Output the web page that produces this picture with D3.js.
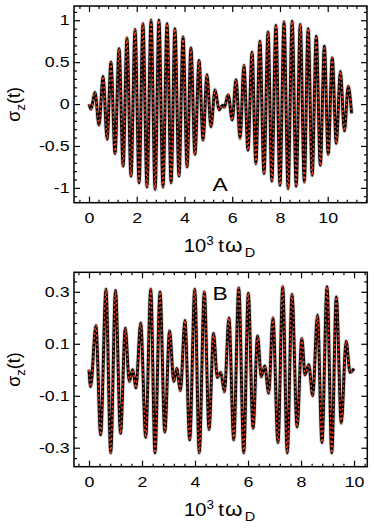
<!DOCTYPE html>
<html>
<head>
<meta charset="utf-8">
<script src="https://cdn.jsdelivr.net/npm/d3@7"></script>
<style>
  body { margin: 0; background: #fff; }
  svg { display: block; font-family: "Liberation Sans", Arial, Helvetica, sans-serif; }
</style>
</head>
<body>
<div id="chart"></div>
<script>
// sigma_z(t) turning points (time in units of 10^3 / omega_D)
const aTime = [0, 0.085, 0.25, 0.42, 0.59, 0.76, 0.92, 1.09, 1.26, 1.43, 1.59, 1.76, 1.93, 2.1, 2.26, 2.43, 2.6,
  2.77, 2.93, 3.1, 3.27, 3.44, 3.6, 3.77, 3.94, 4.11, 4.27, 4.44, 4.61, 4.78, 4.94, 5.11, 5.28, 5.45,
  5.59, 5.67, 5.83, 6.0, 6.16, 6.33, 6.49, 6.66, 6.83, 6.99, 7.16, 7.33, 7.5, 7.66, 7.83, 8.0, 8.17,
  8.34, 8.51, 8.68, 8.85, 9.02, 9.18, 9.35, 9.52, 9.69, 9.86, 10.02, 10.19, 10.36, 10.53, 10.7, 10.86, 11.0];
const aSigma = [0, -0.06, 0.14, -0.25, 0.33, -0.42, 0.5, -0.59, 0.66, -0.74, 0.79, -0.86, 0.89, -0.94, 0.96, -0.99, 1.0,
  -1.02, 1.0, -0.99, 0.96, -0.94, 0.9, -0.86, 0.8, -0.75, 0.67, -0.6, 0.52, -0.43, 0.35, -0.27, 0.17, -0.07,
  -0.015, -0.035, 0.11, -0.19, 0.29, -0.41, 0.46, -0.55, 0.62, -0.71, 0.75, -0.83, 0.86, -0.92, 0.94, -0.97, 0.98,
  -1.01, 0.99, -0.98, 0.95, -0.93, 0.9, -0.85, 0.81, -0.73, 0.69, -0.6, 0.55, -0.47, 0.39, -0.32, 0.21, -0.11];

const bTime = [0, 0.06, 0.26, 0.44, 0.64, 0.82, 1.0, 1.19, 1.37, 1.52, 1.65, 1.77, 1.95, 2.14, 2.33, 2.49, 2.68,
  2.86, 3.04, 3.2, 3.31, 3.45, 3.62, 3.8, 3.99, 4.16, 4.35, 4.53, 4.7, 4.84, 4.97, 5.11, 5.28, 5.46, 5.65,
  5.84, 6.01, 6.19, 6.36, 6.5, 6.63, 6.78, 6.94, 7.13, 7.31, 7.48, 7.66, 7.85, 8.03, 8.15, 8.29, 8.44,
  8.62, 8.79, 8.98, 9.16, 9.33, 9.52, 9.7, 9.85, 10.0];
const bSigma = [0, -0.065, 0.17, -0.25, 0.31, -0.32, 0.305, -0.245, 0.16, -0.045, 0.0, -0.07, 0.18, -0.26, 0.31, -0.32, 0.3,
  -0.24, 0.15, -0.045, 0.005, -0.08, 0.19, -0.27, 0.31, -0.32, 0.3, -0.23, 0.14, -0.03, -0.01, -0.085, 0.2, -0.27, 0.315,
  -0.32, 0.295, -0.225, 0.13, -0.027, 0.015, -0.09, 0.2, -0.28, 0.32, -0.32, 0.29, -0.22, 0.12, -0.02, 0.02, -0.1,
  0.21, -0.28, 0.32, -0.32, 0.28, -0.205, 0.11, -0.01, 0.005];

const xTicks = [0, 2, 4, 6, 8, 10];
const aYTicks = [-1, -0.5, 0, 0.5, 1];
const bYTicks = [-0.3, -0.1, 0.1, 0.3];

const width = 374;
const height = 530;
const stretch = 1.27;   // the original lettering is a bit wider than Arial

const svg = d3.select('#chart').append('svg')
  .attr('width', width)
  .attr('height', height);

function minorTicks(from, to, step, majors) {
  return d3.range(Math.round((to - from) / step) + 1)
    .map(i => +(from + i * step).toFixed(3))
    .filter(v => !majors.some(m => Math.abs(m - v) < 1e-6));
}

function panel(p) {
  const x = d3.scaleLinear().domain(p.xDomain).range([p.left, p.right]);
  const y = d3.scaleLinear().domain(p.yDomain).range([p.bottom, p.top]);
  const g = svg.append('g');

  const xMinor = minorTicks(-0.4, p.xDomain[1] - 0.01, 0.4, xTicks).filter(v => v < p.xDomain[1]);
  const yMinor = minorTicks(p.yMinor[0], p.yMinor[1], p.yMinor[2], p.yTicks);

  const styleAxis = sel => {
    sel.select('.domain').remove();
    sel.selectAll('line').attr('stroke-width', 1.2);
    sel.selectAll('text')
      .style('font-size', '14px')
      .style('font-family', '"Liberation Sans", Arial, Helvetica, sans-serif')
      .attr('fill', '#000')
      .attr('transform', `scale(${stretch},1)`);
  };

  // bottom + top
  g.append('g').attr('transform', `translate(0,${p.bottom})`)
    .call(d3.axisBottom(x).tickValues(xTicks).tickSize(-6).tickPadding(10.5).tickFormat(d => String(d)))
    .call(styleAxis);
  g.append('g').attr('transform', `translate(0,${p.bottom})`)
    .call(d3.axisBottom(x).tickValues(xMinor).tickSize(-3).tickFormat(''))
    .call(styleAxis);
  g.append('g').attr('transform', `translate(0,${p.top})`)
    .call(d3.axisTop(x).tickValues(xTicks).tickSize(-6).tickFormat(''))
    .call(styleAxis);
  g.append('g').attr('transform', `translate(0,${p.top})`)
    .call(d3.axisTop(x).tickValues(xMinor).tickSize(-3).tickFormat(''))
    .call(styleAxis);

  // left + right
  g.append('g').attr('transform', `translate(${p.left},0)`)
    .call(d3.axisLeft(y).tickValues(p.yTicks).tickSize(-6).tickPadding(3.5).tickFormat(d => String(d)))
    .call(styleAxis);
  g.append('g').attr('transform', `translate(${p.left},0)`)
    .call(d3.axisLeft(y).tickValues(yMinor).tickSize(-3).tickFormat(''))
    .call(styleAxis);
  g.append('g').attr('transform', `translate(${p.right},0)`)
    .call(d3.axisRight(y).tickValues(p.yTicks).tickSize(-6).tickFormat(''))
    .call(styleAxis);
  g.append('g').attr('transform', `translate(${p.right},0)`)
    .call(d3.axisRight(y).tickValues(yMinor).tickSize(-3).tickFormat(''))
    .call(styleAxis);

  g.append('rect')
    .attr('x', p.left).attr('y', p.top)
    .attr('width', p.right - p.left).attr('height', p.bottom - p.top)
    .attr('fill', 'none').attr('stroke', '#000').attr('stroke-width', 1.5);

  // the curve: grey halo, black line, red dashes on top
  const line = d3.line()
    .x(d => x(d[0]))
    .y(d => y(d[1]))
    .curve(d3.curveMonotoneX);
  const pts = d3.zip(p.time, p.sigma);
  g.append('path').datum(pts).attr('d', line)
    .attr('fill', 'none').attr('stroke', '#cfcfcf').attr('stroke-width', 4.4);
  g.append('path').datum(pts).attr('d', line)
    .attr('fill', 'none').attr('stroke', '#000').attr('stroke-width', 2.8);
  g.append('path').datum(pts).attr('d', line)
    .attr('fill', 'none').attr('stroke', '#f5401c').attr('stroke-width', 1.5)
    .attr('stroke-dasharray', '2.2,2.4');

  // panel letter
  g.append('text')
    .attr('transform', `translate(${p.labelPos[0]},${p.labelPos[1]}) scale(${stretch},1)`)
    .attr('text-anchor', 'middle')
    .style('font-size', '18px')
    .text(p.label);

  // x title: 10^3 t omega_D
  const xt = g.append('text')
    .attr('transform', `translate(${(p.left + p.right) / 2 - 1},${p.bottom + 49}) scale(1.12,1)`)
    .attr('text-anchor', 'middle')
    .style('font-size', '18px');
  xt.append('tspan').text('10');
  xt.append('tspan').attr('dy', -7).style('font-size', '12px').text('3');
  xt.append('tspan').attr('dy', 7).attr('dx', 4).text('t');
  xt.append('tspan').attr('dx', 1).style('font-size', '20px').text('\u03c9');
  xt.append('tspan').attr('dy', 5).attr('dx', 2).style('font-size', '13px').text('D');

  // y title: sigma_z(t)
  const yt = g.append('text')
    .attr('transform', `translate(20,${(p.top + p.bottom) / 2}) rotate(-90)`)
    .attr('text-anchor', 'middle')
    .style('font-size', '18px');
  yt.append('tspan').text('\u03c3');
  yt.append('tspan').attr('dy', 5).style('font-size', '13px').text('z');
  yt.append('tspan').attr('dy', -5).text('(t)');
}

panel({
  left: 74, right: 367, top: 6, bottom: 202.7,
  xDomain: [-0.628, 11.646], yDomain: [-1.177, 1.17],
  yTicks: aYTicks, yMinor: [-1.1, 1.1, 0.1],
  time: aTime, sigma: aSigma,
  label: 'A', labelPos: [220, 190.5]
});

panel({
  left: 74, right: 367.3, top: 272.3, bottom: 466.7,
  xDomain: [-0.566, 10.5], yDomain: [-0.373, 0.375],
  yTicks: bYTicks, yMinor: [-0.34, 0.34, 0.04],
  time: bTime, sigma: bSigma,
  label: 'B', labelPos: [220, 300]
});
</script>
</body>
</html>
